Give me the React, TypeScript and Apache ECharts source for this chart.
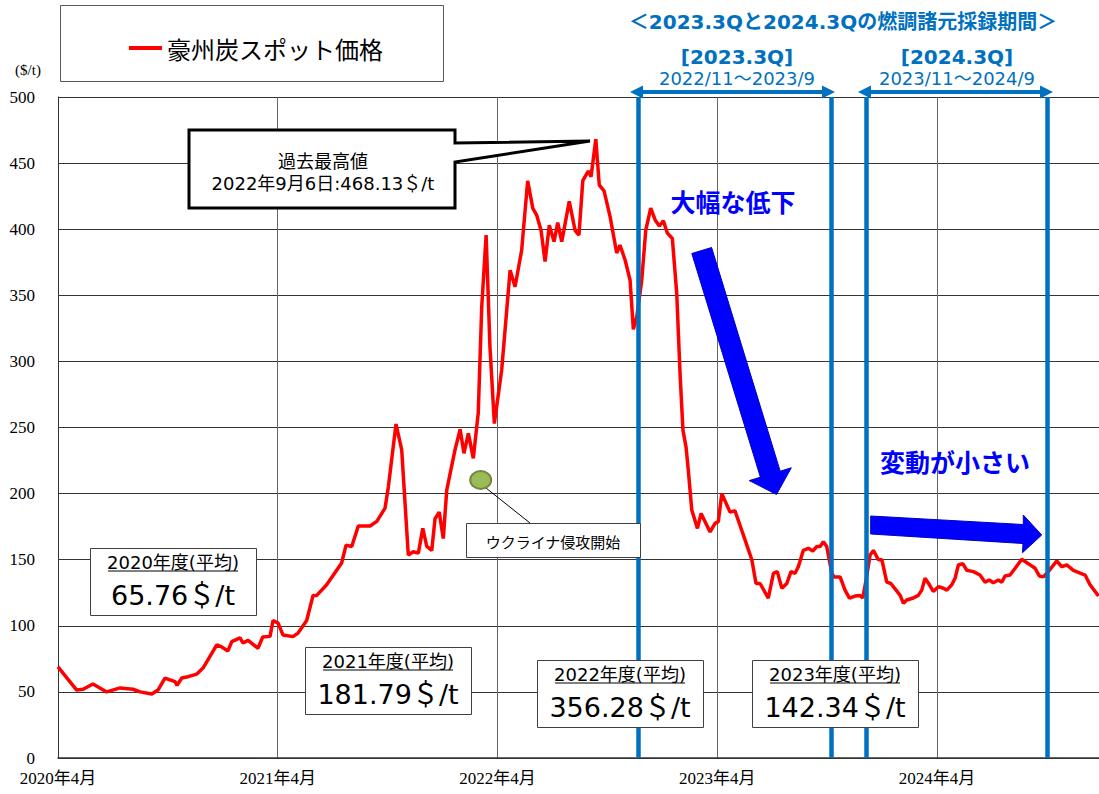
import { useEffect, useRef } from "react";
import * as echarts from "echarts";

// months elapsed since April 2020 (x) and the spot price in $/t (y)
const monthsSinceApr2020 = [
  0, 1.02, 1.37, 1.91, 2.66, 3.39, 4.1, 4.48, 5.12, 5.46,
  5.84, 6.39, 6.5, 6.76, 7.1, 7.58, 7.92, 8.67, 8.94, 9.28,
  9.49, 9.94, 10.1, 10.38, 10.92, 11.18, 11.58, 11.74, 12.02, 12.29,
  12.83, 13.11, 13.58, 13.93, 14.13, 14.67, 15.02, 15.49, 15.73, 16.04,
  16.4, 17.04, 17.41, 17.86, 18.04, 18.46, 18.77, 19.13, 19.4, 19.68,
  19.92, 20.14, 20.41, 20.59, 20.82, 21.04, 21.23, 21.68, 21.96, 22.17,
  22.41, 22.68, 22.95, 23.14, 23.38, 23.59, 23.83, 24.23, 24.69, 24.96,
  25.32, 25.65, 25.93, 26.14, 26.38, 26.6, 26.83, 27.09, 27.29, 27.51,
  27.92, 28.24, 28.45, 28.66, 28.96, 29.11, 29.37, 29.56, 29.82, 30.15,
  30.51, 30.69, 30.97, 31.24, 31.42, 31.61, 31.88, 32.1, 32.37, 32.61,
  32.84, 33.06, 33.28, 33.55, 33.79, 33.97, 34.13, 34.3, 34.42, 34.61,
  34.92, 35.12, 35.61, 35.88, 36.06, 36.25, 36.7, 36.97, 37.52, 37.89,
  38.12, 38.34, 38.79, 39.07, 39.28, 39.53, 39.8, 40.03, 40.25, 40.43,
  40.7, 40.98, 41.22, 41.44, 41.62, 41.8, 41.98, 42.26, 42.38, 42.71,
  42.98, 43.22, 43.53, 43.8, 43.95, 44.13, 44.35, 44.53, 44.8, 44.99,
  45.26, 45.48, 45.77, 45.99, 46.17, 46.35, 46.71, 46.98, 47.17, 47.35,
  47.59, 47.8, 48.08, 48.35, 48.54, 48.81, 48.99, 49.17, 49.41, 49.63,
  49.99, 50.35, 50.63, 50.86, 51.08, 51.35, 51.54, 51.72, 51.99, 52.27,
  52.63, 52.99, 53.36, 53.59, 53.81, 54.08, 54.54, 54.82, 55.09, 55.45,
  56.09, 56.36, 56.82,
];

const spotPrice = [
  69, 51.4, 52, 56, 50, 53, 52, 50, 48.4, 51.4,
  60.5, 57.7, 55, 60.5, 61.5, 63.5, 68, 85.5, 84, 81,
  88, 90.8, 87, 89, 83, 91.5, 92, 104, 102, 93,
  91.8, 94.5, 104, 123, 123, 131, 138, 147.5, 161, 160,
  175.5, 175.5, 179, 189, 205, 252.6, 233, 153.5, 156, 155,
  173.7, 160, 157, 181, 186, 166, 202.7, 233, 248.6, 230.5,
  245.5, 226.7, 261, 341, 395.6, 311, 253, 293.5, 369, 356.5,
  384, 436.5, 415.8, 410.7, 399, 375.5, 403, 390.6, 405, 390.6,
  421, 399, 395.6, 436.7, 444, 439.7, 468.13, 433.4, 429, 409.5,
  382, 388, 376.7, 361.6, 324.3, 333.8, 361.6, 399.4, 416, 407,
  402.4, 406.4, 397, 393, 351.5, 291, 248, 235, 218, 187.6,
  173.7, 185, 171, 177.5, 178.8, 200, 186, 187, 165, 150,
  132, 132, 121, 139.7, 141, 128.4, 132, 141, 139.7, 144.7,
  157, 158.6, 156.6, 160, 160, 163.6, 160, 139.7, 137, 137,
  127, 121, 122.5, 123, 121, 134.6, 153.5, 157, 150, 150,
  133, 132, 127, 123, 117, 119.5, 121, 123, 127, 136,
  131, 126, 129.6, 128.4, 127, 131, 136, 146, 147, 142,
  141, 138.4, 133, 134.6, 132.6, 134.6, 133, 137.7, 138.4, 143.5,
  150.3, 147, 143.5, 137.7, 137, 141, 149, 144.7, 146, 142,
  138.4, 131, 122.5,
];

const xTickLabels = ["2020年4月", "2021年4月", "2022年4月", "2023年4月", "2024年4月"];
const periodBoundaries = [31.68, 42.22, 44.16, 54.0];
const fiscalYearLabels = ["2020年度(平均)", "2021年度(平均)", "2022年度(平均)", "2023年度(平均)"];
const fiscalYearAverages = [65.76, 181.79, 356.28, 142.34];
const seriesName = "豪州炭スポット価格";

const SANS = "'Noto Sans CJK JP', sans-serif";
const NUM = "'DejaVu Sans', 'Noto Sans CJK JP', sans-serif";
const SERIF = "'Liberation Serif', 'Noto Sans CJK JP', serif";
const BLUE = "#0070C0";

function txt(text: string, x: number, y: number, size: number, opts: any = {}) {
  return {
    type: "text",
    z: 20,
    style: {
      text,
      x,
      y,
      fontSize: size,
      fontFamily: opts.family || SANS,
      fontWeight: opts.weight || "normal",
      fill: opts.color || "#000",
      align: opts.align || "center",
      textAlign: opts.align || "center",
      verticalAlign: "middle",
      textVerticalAlign: "middle",
    },
  };
}

function avgBox(i: number, left: number, top: number) {
  const cx = left + 83;
  return [
    {
      type: "rect",
      z: 15,
      shape: { x: left + 0.5, y: top + 0.5, width: 166, height: 67 },
      style: { fill: "#fff", stroke: "#404040", lineWidth: 1 },
    },
    txt(fiscalYearLabels[i], cx, top + 14.5, 18, { family: NUM }),
    {
      type: "line",
      z: 20,
      shape: { x1: cx - 65, y1: top + 23, x2: cx + 65, y2: top + 23 },
      style: { stroke: "#000", lineWidth: 1 },
    },
    txt(`${fiscalYearAverages[i].toFixed(2)}＄/t`, cx, top + 47, 27, { family: NUM }),
  ];
}

function hArrow(x1: number, x2: number, y: number) {
  return [
    {
      type: "line",
      z: 20,
      shape: { x1: x1 + 8, y1: y, x2: x2 - 8, y2: y },
      style: { stroke: BLUE, lineWidth: 4 },
    },
    {
      type: "polygon",
      z: 20,
      shape: { points: [[x1, y], [x1 + 13, y - 6.5], [x1 + 13, y + 6.5]] },
      style: { fill: BLUE },
    },
    {
      type: "polygon",
      z: 20,
      shape: { points: [[x2, y], [x2 - 13, y - 6.5], [x2 - 13, y + 6.5]] },
      style: { fill: BLUE },
    },
  ];
}

export default function App() {
  const ref = useRef<HTMLDivElement>(null);

  useEffect(() => {
    if (!ref.current) return;
    const chart = echarts.init(ref.current, undefined, { renderer: "svg" });

    const data = monthsSinceApr2020.map((m, i) => [m, spotPrice[i]]);

    const graphics: any[] = [
      // legend frame
      {
        type: "rect",
        z: 0,
        shape: { x: 60.5, y: 5.5, width: 383, height: 76 },
        style: { fill: "#fff", stroke: "#595959", lineWidth: 1 },
      },
      txt("($/t)", 28, 70, 15, { family: SERIF }),
      // header
      txt("＜2023.3Qと2024.3Qの燃調諸元採録期間＞", 843, 22, 20, { color: BLUE, weight: "bold", family: NUM }),
      txt("[2023.3Q]", 737, 57, 20, { color: BLUE, weight: "bold", family: NUM }),
      txt("2022/11～2023/9", 737, 78, 18, { color: BLUE, family: NUM }),
      txt("[2024.3Q]", 957, 57, 20, { color: BLUE, weight: "bold", family: NUM }),
      txt("2023/11～2024/9", 957, 78, 18, { color: BLUE, family: NUM }),
      ...hArrow(630, 835, 92),
      ...hArrow(858, 1053, 92),
      // record high callout
      {
        type: "polygon",
        z: 15,
        shape: {
          points: [[189, 130], [455, 130], [455, 143], [590, 141], [455, 162], [455, 208], [189, 208]],
        },
        style: { fill: "#fff", stroke: "#000", lineWidth: 3, lineJoin: "miter" },
      },
      txt("過去最高値", 323, 160, 18),
      txt("2022年9月6日:468.13＄/t", 323, 183, 18, { family: NUM }),
      // Ukraine marker
      {
        type: "line",
        z: 15,
        shape: { x1: 486, y1: 488, x2: 530, y2: 523 },
        style: { stroke: "#000", lineWidth: 1 },
      },
      {
        type: "ellipse",
        z: 16,
        shape: { cx: 480.7, cy: 480, rx: 10.5, ry: 9 },
        style: { fill: "#9BBB59", stroke: "#71893F", lineWidth: 2 },
      },
      {
        type: "rect",
        z: 15,
        shape: { x: 466.5, y: 523.5, width: 174, height: 34 },
        style: { fill: "#fff", stroke: "#404040", lineWidth: 1 },
      },
      txt("ウクライナ侵攻開始", 553, 541, 15),
      // fiscal year averages
      ...avgBox(0, 90, 548),
      ...avgBox(1, 305, 647),
      ...avgBox(2, 537, 660),
      ...avgBox(3, 752, 660),
      // big arrows
      {
        type: "polygon",
        z: 18,
        shape: {
          points: [
            [691.8, 253.5], [711.6, 247.5], [780.2, 471.2], [791.3, 467.8],
            [776.5, 494.5], [749.3, 480.6], [760.4, 477.2],
          ],
        },
        style: { fill: "#0000FF", stroke: "#0000C0", lineWidth: 1 },
      },
      {
        type: "polygon",
        z: 18,
        shape: {
          points: [
            [870.7, 516], [1023.3, 524.5], [1023.3, 515], [1041.7, 535],
            [1022.5, 552.7], [1023, 543.5], [870.7, 534],
          ],
        },
        style: { fill: "#0000FF", stroke: "#0000C0", lineWidth: 1 },
      },
      txt("大幅な低下", 733, 201, 25, { color: "#0000FF", weight: "bold" }),
      txt("変動が小さい", 955, 461, 25, { color: "#0000FF", weight: "bold" }),
    ];

    chart.setOption({
      animation: false,
      backgroundColor: "#fff",
      grid: { left: 58, right: 0, top: 97, bottom: 36, containLabel: false },
      legend: {
        data: [seriesName],
        left: 124,
        top: 31,
        z: 30,
        icon: "rect",
        itemWidth: 33,
        itemHeight: 4,
        textStyle: { fontSize: 24, fontFamily: SANS, color: "#000" },
        selectedMode: false,
      },
      xAxis: {
        type: "value",
        min: 0,
        max: 56.85,
        interval: 12,
        axisLine: { show: true, lineStyle: { color: "#333", width: 1.5 } },
        axisTick: { show: false },
        splitLine: { show: true, lineStyle: { color: "#666", width: 1 } },
        axisLabel: {
          showMaxLabel: false,
          margin: 12,
          fontSize: 17,
          fontFamily: SERIF,
          color: "#000",
          formatter: (v: number) => (v % 12 === 0 ? xTickLabels[v / 12] || "" : ""),
        },
      },
      yAxis: {
        type: "value",
        min: 0,
        max: 500,
        interval: 50,
        axisLine: { show: true, lineStyle: { color: "#333", width: 1 } },
        axisTick: { show: false },
        splitLine: { show: true, lineStyle: { color: "#333", width: 1 } },
        axisLabel: { margin: 23, fontSize: 17, fontFamily: SERIF, color: "#000" },
      },
      series: [
        {
          name: seriesName,
          type: "line",
          data,
          showSymbol: false,
          symbol: "none",
          color: "#FF0000",
          lineStyle: { color: "#FF0000", width: 3.5 },
          z: 3,
          markLine: {
            silent: true,
            symbol: ["none", "none"],
            label: { show: false },
            lineStyle: { color: BLUE, width: 4.5, type: "solid" },
            data: periodBoundaries.map((m) => ({ xAxis: m })),
          },
        },
      ],
      graphic: { elements: graphics },
    });

    return () => chart.dispose();
  }, []);

  return (
    <div
      ref={ref}
      style={{ position: "fixed", left: 0, top: 0, width: 1099, height: 794, background: "#fff" }}
    />
  );
}
